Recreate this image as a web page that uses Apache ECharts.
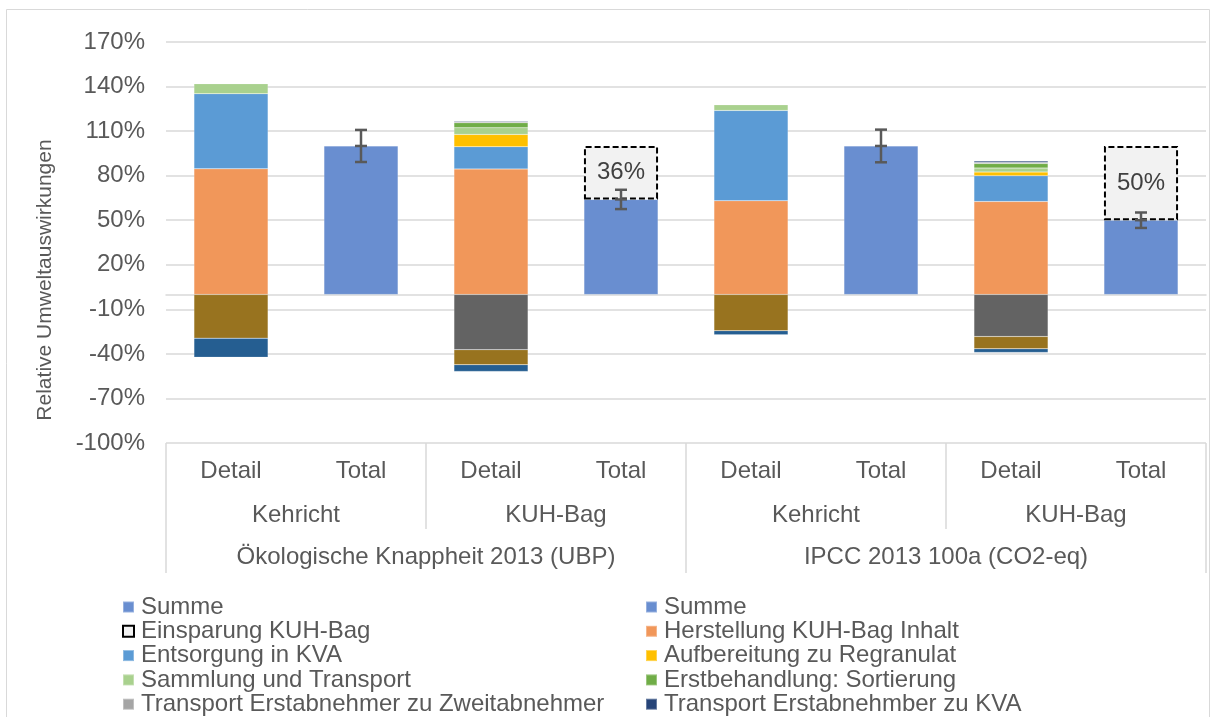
<!DOCTYPE html>
<html>
<head>
<meta charset="utf-8">
<script src="https://cdn.jsdelivr.net/npm/echarts@6/dist/echarts.min.js"></script>
<style>
html,body{margin:0;padding:0;background:#fff;}
#c{width:1212px;height:717px;}
</style>
</head>
<body>
<div id="c"></div>
<script>
// ---- data ----
const categories = ['Detail','Total','Detail','Total','Detail','Total','Detail','Total'];
const subGroups = ['Kehricht','KUH-Bag','Kehricht','KUH-Bag'];
const methods = ['Ökologische Knappheit 2013 (UBP)','IPCC 2013 100a (CO2-eq)'];
const yMin = -100, yMax = 170, yStep = 30;

const summeUBP      = [null, 100, null, 64, null, null, null, null];
const summeIPCC     = [null, null, null, null, null, 100, null, 50];
const einsparung    = [null, null, null, 36, null, null, null, 50];
const herstellung   = [84.6, null, 84.5, null, 63.1, null, 62.6, null];
const entsorgung    = [50.6, null, 15.0, null, 60.8, null, 17.3, null];
const aufbereitung  = [null, null, 8.3, null, null, null, 2.5, null];
const sammlung      = [6.7, null, 4.5, null, 3.8, null, 2.7, null];
const erstbehandlung= [null, null, 3.3, null, null, null, 3.1, null];
const transportZweit= [null, null, 0.9, null, null, null, 0.7, null];
const transportKVA  = [null, null, 0.4, null, null, null, 0.9, null];
const gutschriftRegranulat = [null, null, -37.2, null, null, null, -28.3, null];
const gutschriftWaerme     = [-29.4, null, -10.1, null, -24.4, null, -8.3, null];
const gutschriftStrom      = [-12.8, null, -4.5, null, -2.7, null, -2.4, null];
const summeError    = [null, 10.8, null, 6.5, null, 11, null, 5.2];

// ---- chart ----
const FONT = '"Liberation Sans", Arial, sans-serif';
const TXT = '#595959';
const GRID = '#D9D9D9';

function barSeries(name, data, color, extra) {
  return Object.assign({
    name: name, type: 'bar', stack: 'total', data: data,
    xAxisIndex: 0, yAxisIndex: 0,
    barWidth: '57%',
    itemStyle: { color: color, borderColor: 'rgba(255,255,255,0.3)', borderWidth: 0.5 },
    emphasis: { disabled: true }
  }, extra || {});
}

const errData = [];
summeError.forEach((e, i) => {
  if (e == null) return;
  const base = summeUBP[i] != null ? summeUBP[i] : summeIPCC[i];
  errData.push([i, base, e]);
});

const chart = echarts.init(document.getElementById('c'), null, { renderer: 'canvas' });

const legendBase = {
  orient: 'vertical', top: 595, height: 200, padding: 0,
  itemWidth: 11, itemHeight: 11, itemGap: 0.3, icon: 'rect',
  textStyle: { fontSize: 24, color: TXT, fontFamily: FONT, lineHeight: 24, padding: [0, 0, 0, 2] },
  formatter: n => n.trim()
};

const option = {
  backgroundColor: '#fff',
  animation: false,
  textStyle: { fontFamily: FONT },
  grid: { left: 166, right: 6, top: 42, bottom: 274, containLabel: false },
  graphic: [{
    type: 'rect', silent: true, z: -10,
    shape: { x: 6.5, y: 9.5, width: 1203, height: 740 },
    style: { fill: 'none', stroke: GRID, lineWidth: 1 }
  }],
  legend: [Object.assign({}, legendBase, {
    left: 122,
    data: ['Summe', 'Einsparung KUH-Bag', 'Entsorgung in KVA', 'Sammlung und Transport', 'Transport Erstabnehmer zu Zweitabnehmer']
  }), Object.assign({}, legendBase, {
    left: 645,
    data: ['Summe ', 'Herstellung KUH-Bag Inhalt', 'Aufbereitung zu Regranulat', 'Erstbehandlung: Sortierung', 'Transport Erstabnehmber zu KVA']
  })],
  xAxis: [{
    type: 'category', data: categories, gridIndex: 0, position: 'bottom',
    axisLine: { show: true, onZero: true, lineStyle: { color: GRID, width: 1.5 } },
    axisTick: { show: false }, axisLabel: { show: false }, splitLine: { show: false }
  }, {
    type: 'category', data: categories, gridIndex: 0, position: 'bottom',
    axisLine: { show: false, onZero: false },
    axisTick: { show: false },
    axisLabel: { interval: 0, margin: 16, fontSize: 24, color: TXT, fontFamily: FONT }
  }, {
    type: 'category', data: subGroups, gridIndex: 0, position: 'bottom',
    axisLine: { show: false, onZero: false },
    axisTick: { show: true, interval: 0, length: 86, lineStyle: { color: GRID, width: 1.5 } },
    axisLabel: { interval: 0, margin: 60, fontSize: 24, color: TXT, fontFamily: FONT }
  }, {
    type: 'category', data: methods, gridIndex: 0, position: 'bottom',
    axisLine: { show: false, onZero: false },
    axisTick: { show: true, interval: 0, length: 130, lineStyle: { color: GRID, width: 1.5 } },
    axisLabel: { interval: 0, margin: 102, fontSize: 24, color: TXT, fontFamily: FONT }
  }],
  yAxis: [{
    type: 'value', min: yMin, max: yMax, interval: yStep,
    name: 'Relative Umweltauswirkungen', nameLocation: 'middle', nameGap: 110, nameRotate: 90,
    nameTextStyle: { fontSize: 21, color: TXT, fontFamily: FONT, padding: [0, 75, 0, 0] },
    axisLine: { show: false }, axisTick: { show: false },
    axisLabel: { margin: 21, fontSize: 24, color: TXT, fontFamily: FONT, formatter: v => v + '%' },
    splitLine: { show: true, lineStyle: { color: GRID, width: 1.5 } }
  }],
  series: [
    barSeries('Summe', summeUBP, '#698ED0'),
    barSeries('Summe ', summeIPCC, '#698ED0'),
    barSeries('Einsparung KUH-Bag', einsparung, '#F2F2F2', {
      itemStyle: { color: '#F2F2F2', borderColor: '#000', borderWidth: 2, borderType: [6, 3] },
      label: { show: true, position: 'inside', fontSize: 24, color: '#404040', fontFamily: FONT,
               formatter: p => p.value + '%' }
    }),
    barSeries('Herstellung KUH-Bag Inhalt', herstellung, '#F1975A'),
    barSeries('Entsorgung in KVA', entsorgung, '#5B9BD5'),
    barSeries('Aufbereitung zu Regranulat', aufbereitung, '#FFC000'),
    barSeries('Sammlung und Transport', sammlung, '#A9D18E'),
    barSeries('Erstbehandlung: Sortierung', erstbehandlung, '#70AD47'),
    barSeries('Transport Erstabnehmer zu Zweitabnehmer', transportZweit, '#A5A5A5'),
    barSeries('Transport Erstabnehmber zu KVA', transportKVA, '#264478'),
    barSeries('Gutschrift Regranulat', gutschriftRegranulat, '#636363'),
    barSeries('Gutschrift Wärme', gutschriftWaerme, '#98731F'),
    barSeries('Gutschrift Strom', gutschriftStrom, '#255E91'),
    {
      name: 'Fehler', type: 'custom', xAxisIndex: 0, yAxisIndex: 0, z: 10,
      data: errData,
      renderItem: function (params, api) {
        const x = api.value(0), v = api.value(1), e = api.value(2);
        const top = api.coord([x, v + e]);
        const mid = api.coord([x, v]);
        const bot = api.coord([x, v - e]);
        const hw = 6;
        const st = { stroke: '#595959', lineWidth: 2.5 };
        return {
          type: 'group',
          children: [
            { type: 'line', shape: { x1: top[0], y1: top[1], x2: bot[0], y2: bot[1] }, style: st },
            { type: 'line', shape: { x1: top[0] - hw, y1: top[1], x2: top[0] + hw, y2: top[1] }, style: st },
            { type: 'line', shape: { x1: mid[0] - hw, y1: mid[1], x2: mid[0] + hw, y2: mid[1] }, style: st },
            { type: 'line', shape: { x1: bot[0] - hw, y1: bot[1], x2: bot[0] + hw, y2: bot[1] }, style: st }
          ]
        };
      }
    }
  ]
};
chart.setOption(option);
</script>
</body>
</html>
